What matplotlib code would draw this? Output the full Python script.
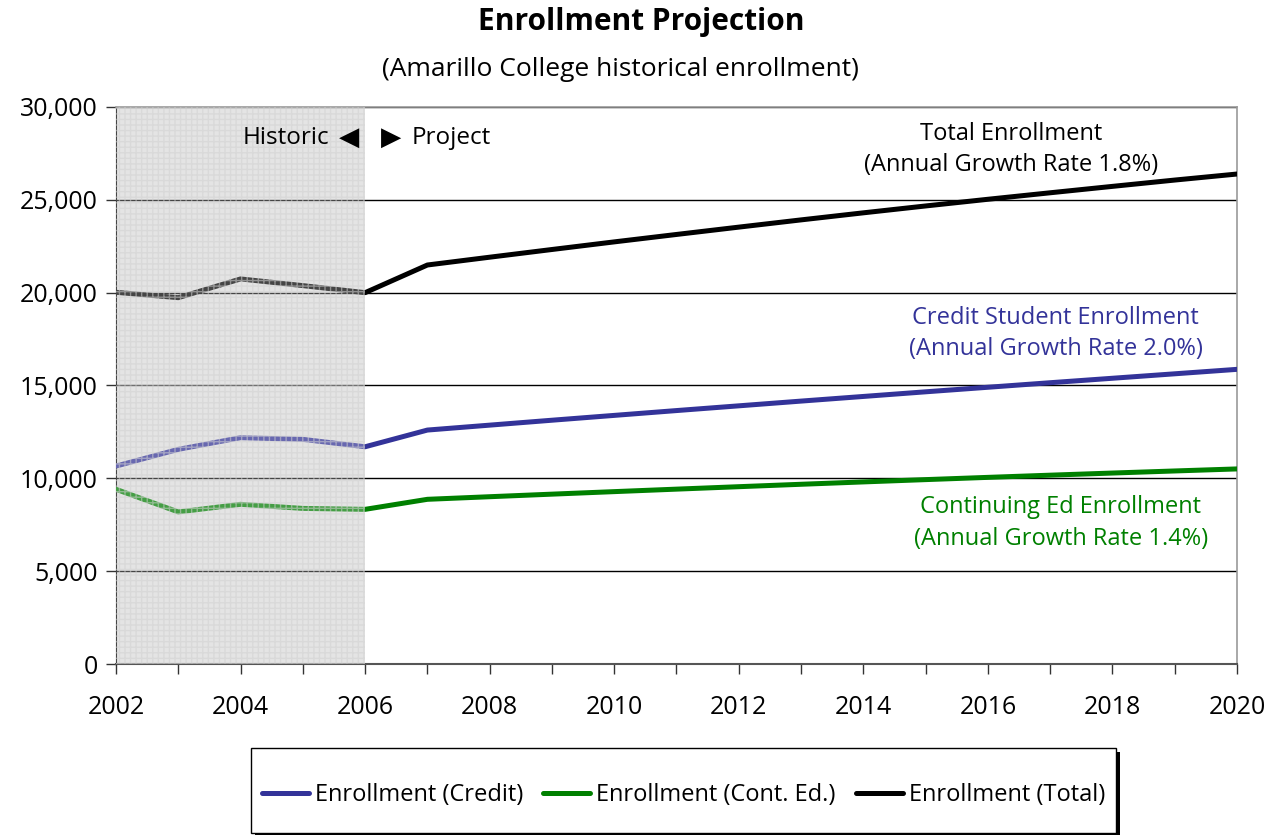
import matplotlib
matplotlib.use("Agg")
import matplotlib.pyplot as plt
from matplotlib.ticker import MultipleLocator, FuncFormatter
from matplotlib.patches import Rectangle

plt.rcParams['font.family'] = ['Open Sans', 'DejaVu Sans']

years = list(range(2002, 2021))

credit = [10660, 11560, 12190, 12100, 11700,
          12600, 12865, 13130, 13390, 13650, 13905, 14160, 14410,
          14660, 14905, 15150, 15390, 15630, 15870]
cont_ed = [9410, 8190, 8600, 8380, 8330,
           8870, 9010, 9148, 9284, 9418, 9550, 9680, 9807,
           9931, 10052, 10170, 10285, 10397, 10507]
total = [20020, 19730, 20740, 20380, 20000,
         21490, 21910, 22325, 22735, 23135, 23530, 23920, 24300,
         24670, 25030, 25380, 25725, 26065, 26390]

series_labels = ["Enrollment (Credit)", "Enrollment (Cont. Ed.)", "Enrollment (Total)"]
series_colors = ["#333399", "#008000", "#000000"]

historic_end = 2006
FS = 18
W, H = 1269, 835

fig = plt.figure(figsize=(W / 100, H / 100), dpi=100)
ax = fig.add_axes([116 / W, 171 / H, 1121 / W, 557 / H])

for vals, lab, col in zip([credit, cont_ed, total], series_labels, series_colors):
    ax.plot(years, vals, color=col, lw=3.6, label=lab, solid_capstyle='round',
            solid_joinstyle='round', zorder=3)

# grey backdrop for the historic years, with a fine screen laid over the lines
ax.axvspan(years[0], historic_end, facecolor='#e4e4e4', lw=0, zorder=0.5)
ax.axvspan(years[0], historic_end, facecolor=(0.9, 0.9, 0.9, 0.3),
           edgecolor=(0.82, 0.82, 0.82, 0.55), hatch='+++', lw=0, zorder=4)

ax.set_xlim(2002, 2020)
ax.set_ylim(0, 30000)
ax.xaxis.set_major_locator(MultipleLocator(2))
ax.xaxis.set_minor_locator(MultipleLocator(1))
ax.yaxis.set_major_locator(MultipleLocator(5000))
ax.yaxis.set_major_formatter(FuncFormatter(lambda v, p: f"{int(v):,}"))
ax.tick_params(axis='both', which='both', direction='out', length=7, width=1,
               color='#333333', labelsize=FS)
ax.tick_params(axis='x', pad=15)
ax.tick_params(axis='y', pad=6)

ax.grid(axis='y', color='black', lw=1, zorder=1)
ax.set_axisbelow(True)
for side in ['top', 'right']:
    ax.spines[side].set_color('#999999')
    ax.spines[side].set_linewidth(1.2)
ax.spines['left'].set_color('black')
ax.spines['bottom'].set_color('#555555')
ax.spines['bottom'].set_linewidth(1.5)

fig.text(641 / W, 1 - 22 / H, "Enrollment Projection", ha='center', va='center',
         fontsize=21.5, fontweight='bold')
fig.text(620 / W, 1 - 70 / H, "(Amarillo College historical enrollment)",
         ha='center', va='center', fontsize=19)

y_marker = 28330
ax.text(2005.42, y_marker, "Historic", ha='right', va='center', fontsize=17.5, zorder=5)
ax.text(2005.9, y_marker, "\u25C0", ha='right', va='center', fontsize=19,
        family='DejaVu Sans', zorder=5)
ax.text(2006.25, y_marker, "\u25B6", ha='left', va='center', fontsize=19,
        family='DejaVu Sans', zorder=5)
ax.text(2006.75, y_marker, "Project", ha='left', va='center', fontsize=17.5, zorder=5)

ax.text(2016.37, 27720, "Total Enrollment\n(Annual Growth Rate 1.8%)", ha='center',
        va='center', fontsize=17, color='black', linespacing=1.42)
ax.text(2017.09, 17800, "Credit Student Enrollment\n(Annual Growth Rate 2.0%)",
        ha='center', va='center', fontsize=17, color='#333399', linespacing=1.42)
ax.text(2017.17, 7600, "Continuing Ed Enrollment\n(Annual Growth Rate 1.4%)",
        ha='center', va='center', fontsize=17, color='#008000', linespacing=1.42)

# legend box with a solid drop shadow
box_x0, box_x1, box_y0, box_y1 = 251, 1116, 2, 87
fig.patches.append(Rectangle(((box_x0 + 4) / W, (box_y0 - 4) / H),
                             (box_x1 - box_x0) / W, (box_y1 - box_y0) / H,
                             transform=fig.transFigure, facecolor='black',
                             edgecolor='none', zorder=0))
fig.patches.append(Rectangle((box_x0 / W, box_y0 / H),
                             (box_x1 - box_x0) / W, (box_y1 - box_y0) / H,
                             transform=fig.transFigure, facecolor='white',
                             edgecolor='black', lw=1.0, zorder=1))

leg = fig.legend(loc='center', ncol=3,
                 bbox_to_anchor=((box_x0 + box_x1) / 2 / W, 40 / H),
                 fontsize=17, frameon=False,
                 handlelength=2.0, handletextpad=0.25, columnspacing=0.85,
                 borderpad=0.0)
leg.set_zorder(2)

fig.savefig("out.png", dpi=100)
